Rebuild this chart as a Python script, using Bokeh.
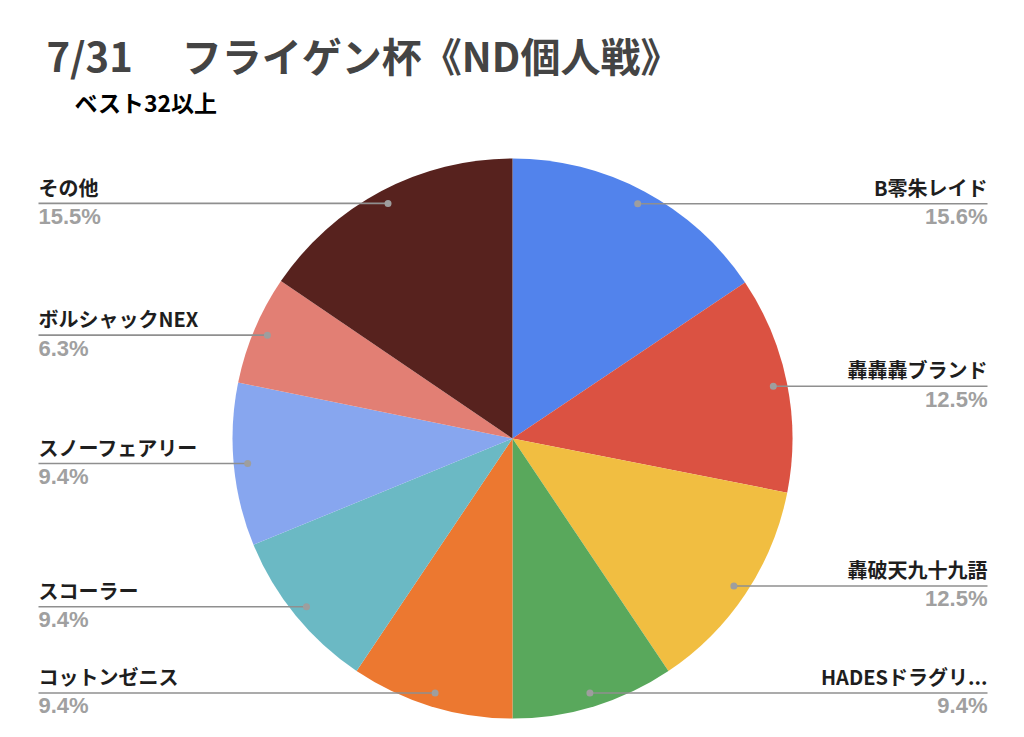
import math
from bokeh.plotting import figure
from bokeh.models import Range1d, ColumnDataSource, Label
from bokeh.core.properties import value
from bokeh.embed import file_html
from bokeh.resources import INLINE

# ---- data ----
categories = ["B零朱レイド", "轟轟轟ブランド", "轟破天九十九語", "HADESドラグリ...",
              "コットンゼニス", "スコーラー", "スノーフェアリー", "ボルシャックNEX", "その他"]
shares = [15.6, 12.5, 12.5, 9.4, 9.4, 9.4, 9.4, 6.3, 15.5]
colors = ["#5283EC", "#DB5242", "#F1BE41", "#59A85C", "#EC7830",
          "#6BB9C4", "#87A6EF", "#E27F74", "#57221E"]
title_text = "7/31　 フライゲン杯《ND個人戦》"
subtitle_text = "ベスト32以上"

W, H = 1008, 721
CJK = "Noto Sans CJK JP"
NUM = "Liberation Sans"
K_CJK = 0.47   # empirical baseline correction (em)
K_NUM = 0.37

def sy(Y):
    return 737 - Y

p = figure(width=W, height=H, x_range=Range1d(0, 1008), y_range=Range1d(16, 737),
           output_backend="svg", toolbar_location=None, min_border=0)
p.axis.visible = False
p.grid.visible = False
p.outline_line_color = None
p.background_fill_color = "white"

cx, cy, R = 512, sy(438), 280
total = sum(shares)
starts, ends, mids = [], [], []
cum = 0.0
for v in shares:
    a0 = cum / total
    cum += v
    a1 = cum / total
    starts.append(math.pi / 2 - a0 * 2 * math.pi)
    ends.append(math.pi / 2 - a1 * 2 * math.pi)
    mids.append((a0 + a1) / 2 * 2 * math.pi)  # clockwise from top

src = ColumnDataSource(dict(x=[cx] * len(shares), y=[cy] * len(shares),
                            start=starts, end=ends, color=colors))
p.wedge(x="x", y="y", radius=R, start_angle="start", end_angle="end",
        direction="clock", fill_color="color", line_color=None, source=src)

# ---- leader lines & labels ----
LFS, PFS = 20, 22
rd = 0.95 * R
dx_, dy_, lx0, lx1 = [], [], [], []
rl = dict(x=[], y=[], t=[]); rp = dict(x=[], y=[], t=[])
ll = dict(x=[], y=[], t=[]); lp = dict(x=[], y=[], t=[])
for cat, v, m in zip(categories, shares, mids):
    px = cx + rd * math.sin(m)
    py = cy + rd * math.cos(m)
    dx_.append(px); dy_.append(py)
    pct = f"{v / total * 100:.1f}%"
    ly = py + 7 + K_CJK * LFS
    pyy = py - 21 + K_NUM * PFS
    if math.sin(m) > 0:
        lx0.append(px); lx1.append(987)
        rl["x"].append(987); rl["y"].append(ly); rl["t"].append(cat)
        rp["x"].append(987); rp["y"].append(pyy); rp["t"].append(pct)
    else:
        lx0.append(38); lx1.append(px)
        ll["x"].append(38); ll["y"].append(ly); ll["t"].append(cat)
        lp["x"].append(38); lp["y"].append(pyy); lp["t"].append(pct)

p.segment(x0=lx0, y0=dy_, x1=lx1, y1=dy_, line_color="#8f8f8f", line_width=1.6)
p.scatter(x=dx_, y=dy_, size=7, fill_color="#9e9e9e", line_color=None)

for d, align in ((rl, "right"), (ll, "left")):
    p.text(x=d["x"], y=d["y"], text=d["t"], text_align=align, text_baseline="alphabetic",
           text_font=value(CJK), text_font_style="bold", text_font_size=f"{LFS}px",
           text_color="#1e1e1e")
for d, align in ((rp, "right"), (lp, "left")):
    p.text(x=d["x"], y=d["y"], text=d["t"], text_align=align, text_baseline="alphabetic",
           text_font=value(NUM), text_font_style="bold", text_font_size=f"{PFS}px",
           text_color="#a0a0a0")

TFS, SFS = 40, 23
p.add_layout(Label(x=46, y=sy(73) + K_CJK * TFS, text=title_text, text_font=CJK,
                   text_font_style="bold", text_font_size=f"{TFS}px", text_color="#444444",
                   text_baseline="alphabetic"))
p.add_layout(Label(x=74, y=sy(112) + K_CJK * SFS, text=subtitle_text, text_font=CJK,
                   text_font_style="bold", text_font_size=f"{SFS}px", text_color="#000000",
                   text_baseline="alphabetic"))

open("out.html", "w").write(file_html(p, INLINE))
